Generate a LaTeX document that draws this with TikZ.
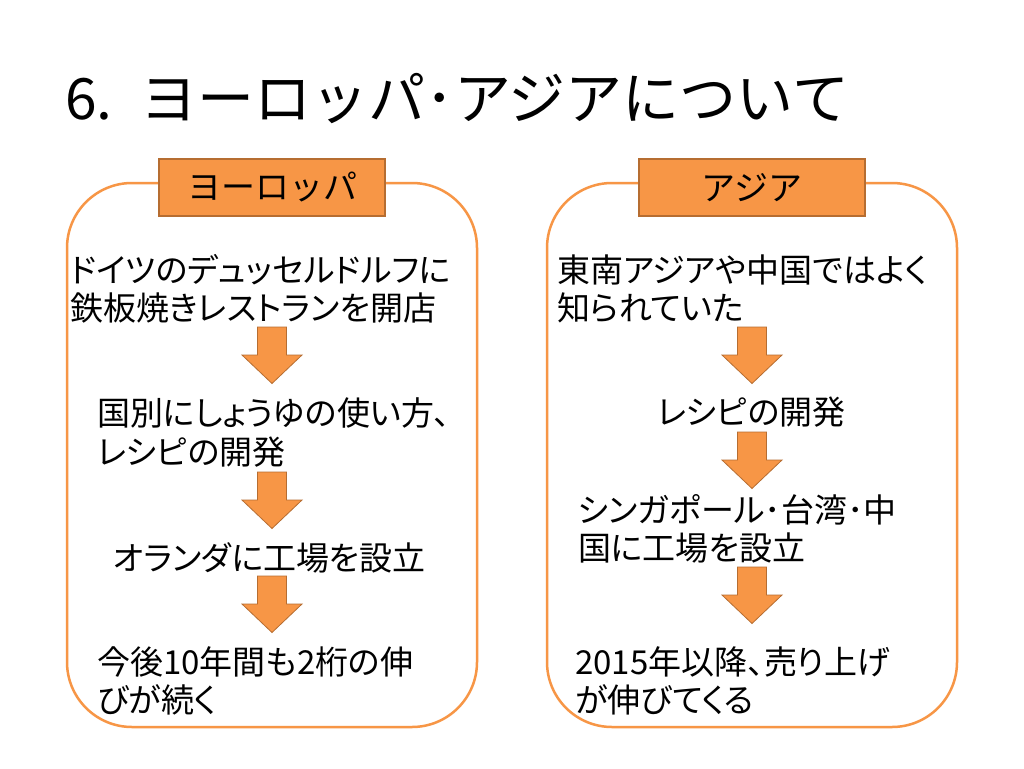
\documentclass[tikz,border=0pt]{standalone}
\usepackage{fontspec}
\setmainfont{Noto Sans CJK JP}
\newfontfamily\bodyfont[RawFeature=+palt]{Noto Sans CJK JP}
\definecolor{accent}{HTML}{F79646}
\definecolor{accentdark}{HTML}{B66D31}
\usetikzlibrary{calc}
\newcommand{\flowarrow}[3]{% name, cx, top
  \coordinate (#1) at (#2,#3);
  \draw[arrowshape] ($(#1)+(-14.5,0)$) -- ($(#1)+(14.5,0)$) -- ($(#1)+(14.5,28)$) -- ($(#1)+(30,28)$)
    -- ($(#1)+(0,56.5)$) -- ($(#1)+(-30,28)$) -- ($(#1)+(-14.5,28)$) -- cycle;}
\begin{document}
\begin{tikzpicture}[x=1pt,y=-1pt,
  frame/.style={draw=accent,line width=2.5pt,rounded corners=65pt},
  labelbox/.style={draw=accentdark,fill=accent,line width=1.2pt,minimum width=226pt,minimum height=57pt,inner sep=0pt,font=\fontsize{34}{40}\selectfont},
  arrowshape/.style={draw=accentdark,fill=accent,line width=0.8pt,line join=miter},
  bodytext/.style={anchor=west,inner sep=0pt,align=left,font=\bodyfont\fontsize{33}{38.5}\selectfont},
  titletext/.style={anchor=west,inner sep=0pt,font=\fontsize{57}{60}\selectfont}]
\useasboundingbox (0,0) rectangle (1024,768);
\fill[white] (0,0) rectangle (1024,768);
\node[titletext] (title) at (65,99) {6.\hspace{28pt}ヨーロッパ･アジアについて};
% frames
\draw[frame] (67,183) rectangle (477,727);
\draw[frame] (547,183) rectangle (957,727);
\node[labelbox] (lhead) at (272,187.5) {ヨーロッパ};
\node[labelbox] (rhead) at (752,187.5) {アジア};
% left column
\node[bodytext] (l1) at (70,289) {ドイツのデュッセルドルフに\\鉄板焼きレストランを開店};
\node[bodytext] (l2) at (97,432.5) {国別にしょうゆの使い方、\\レシピの開発};
\node[bodytext] (l3) at (113,558) {オランダに工場を設立};
\node[bodytext] (l4) at (97,681) {今後10年間も2桁の伸\\びが続く};
\flowarrow{la1}{272}{327}
\flowarrow{la2}{272}{472}
\flowarrow{la3}{272}{576}
% right column
\node[bodytext] (r1) at (557,289) {東南アジアや中国ではよく\\知られていた};
\node[bodytext] (r2) at (657,412) {レシピの開発};
\node[bodytext] (r3) at (578,529) {シンガポール･台湾･中\\国に工場を設立};
\node[bodytext] (r4) at (575,681) {2015年以降、売り上げ\\が伸びてくる};
\flowarrow{ra1}{752}{327}
\flowarrow{ra2}{752}{432}
\flowarrow{ra3}{752}{567}
\end{tikzpicture}
\end{document}
